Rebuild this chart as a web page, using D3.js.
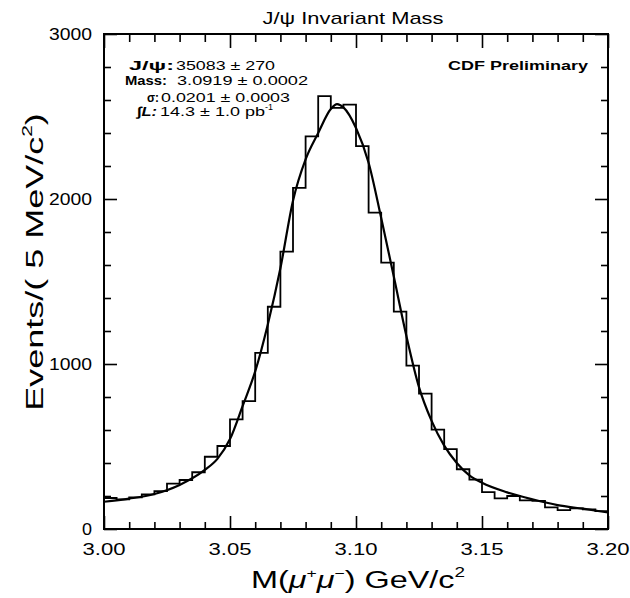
<!DOCTYPE html>
<html>
<head>
<meta charset="utf-8">
<script src="https://cdn.jsdelivr.net/npm/d3@7"></script>
<style>
  body { margin: 0; background: #fff; }
  svg text { font-family: "Liberation Sans", Arial, sans-serif; fill: #000; }
</style>
</head>
<body>
<svg id="chart" width="630" height="598"></svg>
<script>
// histogram: lower edge of each 5 MeV bin and its content
let binLow = [3.000, 3.005, 3.010, 3.015, 3.020, 3.025, 3.030, 3.035, 3.040, 3.045,
    3.050, 3.055, 3.060, 3.065, 3.070, 3.075, 3.080, 3.085, 3.090, 3.095,
    3.100, 3.105, 3.110, 3.115, 3.120, 3.125, 3.130, 3.135, 3.140, 3.145,
    3.150, 3.155, 3.160, 3.165, 3.170, 3.175, 3.180, 3.185, 3.190, 3.195];
let counts = [188, 180, 192, 210, 230, 275, 297, 344, 438, 503,
    665, 775, 1067, 1347, 1681, 2068, 2380, 2624, 2552, 2572,
    2320, 1917, 1614, 1317, 990, 820, 602, 484, 362, 299,
    223, 186, 200, 173, 170, 131, 115, 125, 119, 108];

// fit curve
let fitMass = [3.000, 3.010, 3.020, 3.030, 3.040, 3.045, 3.050, 3.055, 3.060, 3.065,
    3.070, 3.075, 3.080, 3.085, 3.090, 3.0925, 3.095, 3.100, 3.105, 3.110,
    3.115, 3.120, 3.125, 3.130, 3.135, 3.140, 3.145, 3.150, 3.160, 3.170,
    3.180, 3.190, 3.200];
let fitValue = [165, 184, 212, 267, 358, 425, 545, 745, 955, 1240,
    1580, 1990, 2240, 2400, 2545, 2575, 2555, 2430, 2220, 1885,
    1530, 1170, 860, 655, 505, 400, 325, 280, 222, 180,
    145, 123, 100];

let xMajor = [3.00, 3.05, 3.10, 3.15, 3.20];
let xMinor = [3.01, 3.02, 3.03, 3.04, 3.06, 3.07, 3.08, 3.09, 3.11, 3.12, 3.13, 3.14, 3.16, 3.17, 3.18, 3.19];
let yMajor = [0, 1000, 2000, 3000];
let yMinor = [200, 400, 600, 800, 1200, 1400, 1600, 1800, 2200, 2400, 2600, 2800];

let pLeft = 104, pRight = 608, pTop = 34, pBottom = 529;

let x = d3.scaleLinear().domain([3.0, 3.2]).range([pLeft, pRight]);
let y = d3.scaleLinear().domain([0, 3000]).range([pBottom, pTop]);

let svg = d3.select("#chart");

svg.append("defs").append("clipPath").attr("id", "plotclip")
    .append("rect").attr("x", pLeft).attr("y", pTop)
    .attr("width", pRight - pLeft).attr("height", pBottom - pTop);

// ticks (all pointing inward)
let tickGroups = [
    {axis: d3.axisBottom(x).tickValues(xMajor).tickSize(-13), pos: "translate(0," + pBottom + ")"},
    {axis: d3.axisBottom(x).tickValues(xMinor).tickSize(-7), pos: "translate(0," + pBottom + ")"},
    {axis: d3.axisTop(x).tickValues(xMajor).tickSize(-14), pos: "translate(0," + pTop + ")"},
    {axis: d3.axisTop(x).tickValues(xMinor).tickSize(-8), pos: "translate(0," + pTop + ")"},
    {axis: d3.axisLeft(y).tickValues(yMajor).tickSize(-13), pos: "translate(" + pLeft + ",0)"},
    {axis: d3.axisLeft(y).tickValues(yMinor).tickSize(-7), pos: "translate(" + pLeft + ",0)"},
    {axis: d3.axisRight(y).tickValues(yMajor).tickSize(-13), pos: "translate(" + pRight + ",0)"},
    {axis: d3.axisRight(y).tickValues(yMinor).tickSize(-7), pos: "translate(" + pRight + ",0)"}
];
tickGroups.forEach(function (t) {
    let g = svg.append("g").attr("transform", t.pos).call(t.axis.tickFormat(""));
    g.select(".domain").remove();
    g.selectAll("line").attr("stroke", "#000").attr("stroke-width", 1.6);
});

// tick labels
svg.append("g").selectAll("text")
    .data(xMajor).enter().append("text")
    .attr("x", d => x(d)).attr("y", 555)
    .attr("text-anchor", "middle")
    .attr("font-size", 17)
    .attr("textLength", 43).attr("lengthAdjust", "spacingAndGlyphs")
    .text(d => d.toFixed(2));

svg.append("g").selectAll("text")
    .data(yMajor).enter().append("text")
    .attr("x", 92).attr("y", d => y(d) + 6)
    .attr("text-anchor", "end")
    .attr("font-size", 17)
    .attr("textLength", d => d === 0 ? 10 : 43).attr("lengthAdjust", "spacingAndGlyphs")
    .text(d => d);

// histogram
let histPts = binLow.map((m, i) => [m, counts[i]]);
histPts.push([3.2, counts[counts.length - 1]]);
let histLine = d3.line().x(d => x(d[0])).y(d => y(d[1])).curve(d3.curveStepAfter);
svg.append("path")
    .attr("d", histLine(histPts))
    .attr("fill", "none").attr("stroke", "#000").attr("stroke-width", 1.8)
    .attr("clip-path", "url(#plotclip)");

// fit
let fitLine = d3.line().x(d => x(d[0])).y(d => y(d[1])).curve(d3.curveMonotoneX);
svg.append("path")
    .attr("d", fitLine(fitMass.map((m, i) => [m, fitValue[i]])))
    .attr("fill", "none").attr("stroke", "#000").attr("stroke-width", 2.2)
    .attr("clip-path", "url(#plotclip)");

// frame
svg.append("rect")
    .attr("x", pLeft).attr("y", pTop)
    .attr("width", pRight - pLeft).attr("height", pBottom - pTop)
    .attr("fill", "none").attr("stroke", "#000").attr("stroke-width", 2);

// title
svg.append("text")
    .attr("x", 353).attr("y", 24)
    .attr("text-anchor", "middle").attr("font-size", 17)
    .attr("textLength", 181).attr("lengthAdjust", "spacingAndGlyphs")
    .text("J/ψ Invariant Mass");

svg.append("text")
    .attr("x", 588).attr("y", 70)
    .attr("text-anchor", "end").attr("font-size", 13).attr("font-weight", "bold")
    .attr("textLength", 140).attr("lengthAdjust", "spacingAndGlyphs")
    .text("CDF Preliminary");

// fit results
let statLabels = ["J/ψ:", "Mass:", "σ:", "∫L:"];
let statValues = ["35083 ± 270", "3.0919 ±  0.0002", "0.0201 ± 0.0003", "14.3 ± 1.0 pb"];
let statLabelX = [[129, 45], [125, 42], [147, 12], [137, 20]];
let statValueX = [[176, 99], [177, 131], [161, 129], [160, 105]];
let statY = [70, 85, 102, 116];

statLabels.forEach(function (s, i) {
    svg.append("text")
        .attr("x", statLabelX[i][0]).attr("y", statY[i])
        .attr("font-size", 13).attr("font-weight", "bold")
        .attr("font-style", i === 3 ? "italic" : "normal")
        .attr("textLength", statLabelX[i][1]).attr("lengthAdjust", "spacingAndGlyphs")
        .text(s);
    let t = svg.append("text")
        .attr("x", statValueX[i][0]).attr("y", statY[i])
        .attr("font-size", 13).attr("font-weight", 500);
    t.append("tspan")
        .attr("textLength", statValueX[i][1]).attr("lengthAdjust", "spacingAndGlyphs")
        .text(statValues[i]);
    if (i === 3) {
        t.append("tspan").attr("dy", -6).attr("font-size", 9).text("-1");
    }
});

// axis titles (the original lettering is wide, so stretch along the text)
let xt = svg.append("text")
    .attr("transform", "translate(358,588) scale(1.35,1)")
    .attr("text-anchor", "middle").attr("font-size", 24);
xt.append("tspan").text("M(");
xt.append("tspan").attr("font-style", "italic").text("μ");
xt.append("tspan").attr("dy", -10).attr("font-size", 13).text("+");
xt.append("tspan").attr("dy", 10).attr("font-style", "italic").text("μ");
xt.append("tspan").attr("dy", -10).attr("font-size", 13).text("−");
xt.append("tspan").attr("dy", 10).text(") GeV/c");
xt.append("tspan").attr("dy", -11).attr("font-size", 14).text("2");

let yt = svg.append("text")
    .attr("transform", "translate(43,262) rotate(-90) scale(1.5,1)")
    .attr("text-anchor", "middle").attr("font-size", 24);
yt.append("tspan").text("Events/( 5 MeV/c");
yt.append("tspan").attr("dy", -11).attr("font-size", 14).text("2");
yt.append("tspan").attr("dy", 11).text(")");
</script>
</body>
</html>
